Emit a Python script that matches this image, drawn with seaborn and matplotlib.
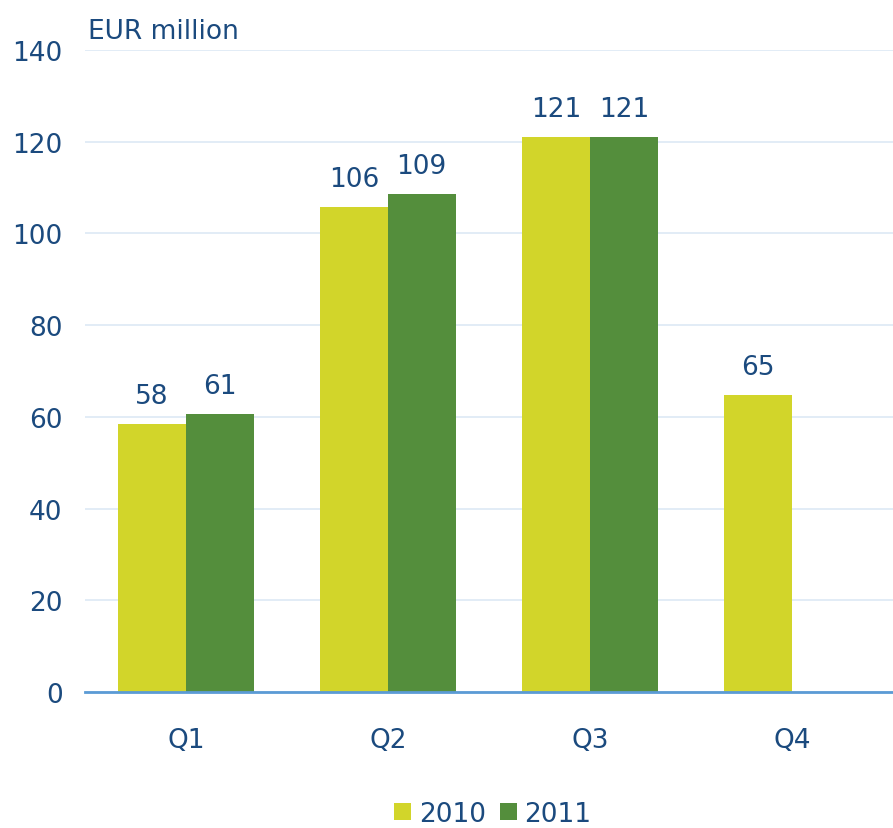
import pandas as pd
import seaborn as sns
import matplotlib.pyplot as plt
from matplotlib.patches import Patch

# Data
quarters = ["Q1", "Q2", "Q3", "Q4"]
values_2010 = [58.4, 105.8, 121.0, 64.8]
values_2011 = [60.6, 108.6, 121.0, None]
years = ["2010", "2011"]
colors = {"2010": "#d2d52a", "2011": "#548e3c"}
text_color = "#1b4a7e"

df = pd.DataFrame({
    "Quarter": quarters * 2,
    "Year": ["2010"] * 4 + ["2011"] * 4,
    "Value": values_2010 + values_2011,
})

sns.set_style("white")
plt.rcParams['font.family'] = ['DejaVu Sans']

fig = plt.figure(figsize=(8.93, 8.29), dpi=100)
ax = fig.add_axes([0.095, 0.164, 0.905, 0.7745])

sns.barplot(data=df, x="Quarter", y="Value", hue="Year", palette=colors,
            order=quarters, hue_order=years, width=0.67, saturation=1,
            gap=0, linewidth=0, ax=ax, legend=False)

# Value labels on top of each drawn bar
for p in ax.patches:
    h = p.get_height()
    if h > 0:
        ax.annotate(f"{h:.0f}", (p.get_x() + p.get_width() / 2, h),
                    xytext=(0, 11), textcoords="offset points",
                    ha="center", va="bottom", fontsize=19, color=text_color)

ax.set_xlim(-0.5, 3.5)
ax.set_ylim(0, 140)
ax.set_yticks(range(0, 141, 20))
ax.yaxis.grid(True, color="#dde9f5", linewidth=1.2)
ax.set_axisbelow(True)
for s in ["top", "right", "left"]:
    ax.spines[s].set_visible(False)
ax.spines["bottom"].set_color("#5b9bd5")
ax.spines["bottom"].set_linewidth(2)
ax.tick_params(axis="both", length=0, labelsize=19, labelcolor=text_color)
ax.tick_params(axis="x", pad=25)
ax.tick_params(axis="y", pad=16)
ax.set_xlabel("")
ax.set_ylabel("")

fig.text(0.098, 0.977, "EUR million", fontsize=19, color=text_color, va="top", ha="left")

handles = [Patch(facecolor=colors[y], edgecolor="none", label=y) for y in years]
fig.legend(handles=handles, loc="center", bbox_to_anchor=(0.552, 0.017), ncol=2,
           frameon=False, fontsize=19, handlelength=0.65, handleheight=0.65,
           handletextpad=0.3, columnspacing=0.5, labelcolor=text_color)

fig.savefig("out.png", dpi=100)
